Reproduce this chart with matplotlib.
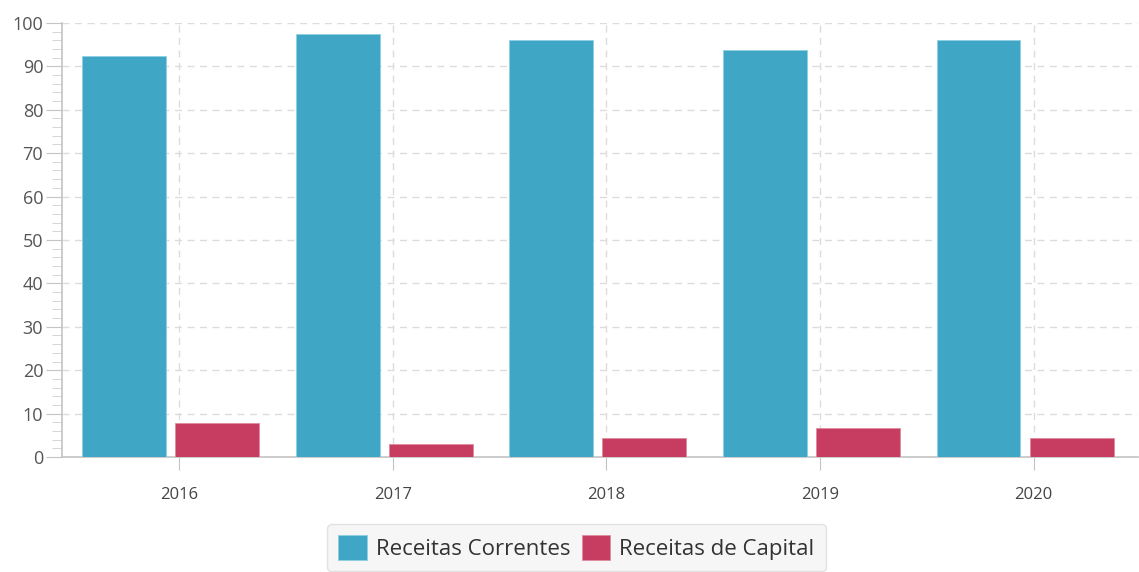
import numpy as np
import matplotlib.pyplot as plt
from matplotlib.ticker import MultipleLocator

years = ["2016", "2017", "2018", "2019", "2020"]
receitas_correntes = [92.4, 97.5, 96.1, 93.8, 96.1]
receitas_capital = [7.8, 3.0, 4.4, 6.7, 4.4]

blue = "#3fa6c6"
red = "#c63d61"

plt.rcParams['font.family'] = ['Open Sans', 'DejaVu Sans']

fig = plt.figure(figsize=(11.39, 5.72), dpi=100)
ax = fig.add_axes([0.0544, 0.201, 0.945, 0.759])

x = np.arange(len(years))
width = 0.393
ax.bar(x - 0.258, receitas_correntes, width, color=blue, edgecolor="#8fd0e2", linewidth=0.6,
       label="Receitas Correntes", zorder=3)
ax.bar(x + 0.178, receitas_capital, width, color=red, edgecolor="#e08aa0", linewidth=0.6,
       label="Receitas de Capital", zorder=3)

ax.set_xlim(-0.548, 4.49)
ax.set_ylim(0, 100)
ax.set_xticks(x)
ax.set_xticklabels(years)
ax.yaxis.set_major_locator(MultipleLocator(10))
ax.yaxis.set_minor_locator(MultipleLocator(2))

ax.grid(True, which="major", color="#dcdcdc", linestyle=(0, (5, 4)), linewidth=1, zorder=0)
for side in ["top", "right"]:
    ax.spines[side].set_visible(False)
for side in ["left", "bottom"]:
    ax.spines[side].set_color("#c4c4c4")
    ax.spines[side].set_linewidth(1.2)

# tick lengths are in points (1 pt = 1.39 px at 100 dpi)
ax.tick_params(axis="y", which="major", length=11.5, color="#c4c4c4", labelsize=13,
               labelcolor="#555555", pad=2)
ax.tick_params(axis="y", which="minor", length=7, color="#cfcfcf")
ax.tick_params(axis="x", length=9.4, color="#c4c4c4", labelsize=12, labelcolor="#444444", pad=12)

leg = fig.legend(loc="upper center", bbox_to_anchor=(0.506, 0.103), ncol=2, fontsize=16,
                 frameon=True, fancybox=True, handlelength=1.3, handleheight=1.3,
                 handletextpad=0.4, columnspacing=0.5, borderpad=0.5)
leg.get_frame().set_facecolor("#f4f4f4")
leg.get_frame().set_edgecolor("#dcdcdc")
for t in leg.get_texts():
    t.set_color("#333333")

fig.savefig("out.png", dpi=100)
